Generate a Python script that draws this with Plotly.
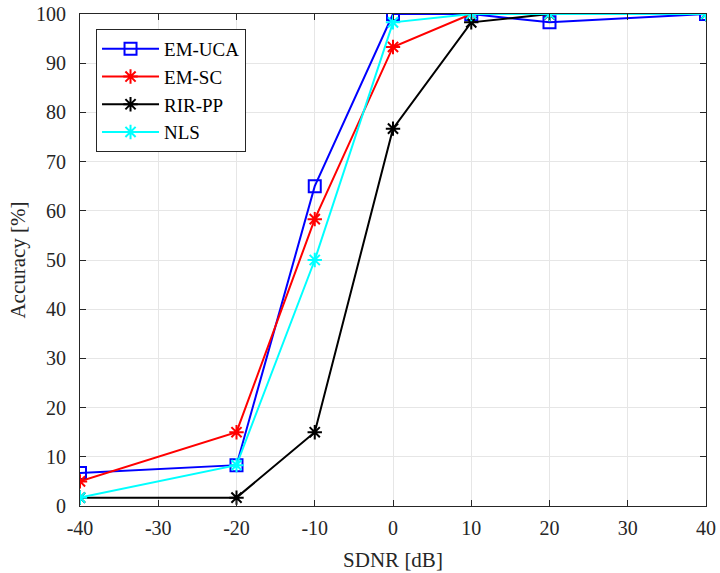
import plotly.graph_objects as go

sdnr = [-40, -20, -10, 0, 10, 20, 40]
em_uca = [6.7, 8.3, 65.0, 100.0, 100.0, 98.3, 100.0]
em_sc = [5.0, 15.0, 58.3, 93.3, 100.0, 100.0, 100.0]
rir_pp = [1.7, 1.7, 15.0, 76.7, 98.3, 100.0, 100.0]
nls = [1.7, 8.3, 50.0, 98.3, 100.0, 100.0, 100.0]

x_ticks = [-40, -30, -20, -10, 0, 10, 20, 30, 40]
y_ticks = [0, 10, 20, 30, 40, 50, 60, 70, 80, 90, 100]

series = [
    ("EM-UCA", em_uca, "#0000ff", "square-open"),
    ("EM-SC", em_sc, "#ff0000", "asterisk-open"),
    ("RIR-PP", rir_pp, "#000000", "asterisk-open"),
    ("NLS", nls, "#00ffff", "asterisk-open"),
]

fig = go.Figure()
for name, vals, col, sym in series:
    fig.add_trace(go.Scatter(
        x=sdnr, y=vals, name=name, mode="lines+markers",
        line=dict(color=col, width=2),
        marker=dict(symbol=sym, size=12, color=col, line=dict(color=col, width=2)),
    ))

font = "Liberation Serif"
axis_common = dict(
    showline=True, linecolor="#262626", linewidth=1, mirror="ticks",
    ticks="inside", ticklen=6, tickcolor="#262626",
    showgrid=True, gridcolor="#e6e6e6", gridwidth=1,
    zeroline=False, tickfont=dict(family=font, size=20, color="#262626"),
    automargin=False,
)

fig.update_layout(
    width=720, height=573,
    margin=dict(l=80, r=14, t=14, b=67),
    paper_bgcolor="white", plot_bgcolor="white",
    font=dict(family=font, size=20, color="#262626"),
    xaxis=dict(range=[-40, 40], tickvals=x_ticks, ticktext=[str(v) for v in x_ticks],
               ticklabelstandoff=4,
               title=dict(text="SDNR [dB]", font=dict(family=font, size=21, color="#262626"), standoff=14),
               **axis_common),
    yaxis=dict(range=[0, 100], tickvals=y_ticks, ticktext=[str(v) for v in y_ticks],
               ticklabelstandoff=9,
               title=dict(text="Accuracy [%]", font=dict(family=font, size=21, color="#262626"), standoff=4),
               **axis_common),
    legend=dict(x=0.0256, y=0.9695, xanchor="left", yanchor="top",
                bgcolor="white", bordercolor="#262626", borderwidth=1,
                font=dict(family=font, size=19, color="#000000"),
                itemwidth=57, tracegroupgap=0),
    showlegend=True,
)

fig.write_html("out.html")
